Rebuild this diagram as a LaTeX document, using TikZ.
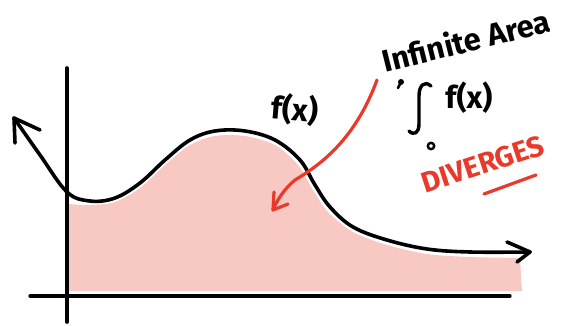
\documentclass[tikz,border=0pt]{standalone}
\usepackage{fontspec}
\setmainfont{Fira Sans}
\definecolor{pinkfill}{HTML}{F8C8C2}
\definecolor{redink}{HTML}{E8392A}
\tikzset{
  ink/.style={line width=3.6pt, line cap=round, line join=round, black},
  redpen/.style={line width=3.2pt, line cap=round, line join=round, redink},
  hand/.style={inner sep=0pt, font=\fontsize{31}{31}\selectfont\bfseries},
}
\begin{document}
\begin{tikzpicture}[x=1pt,y=-1pt]
\useasboundingbox (0,0) rectangle (562,326);
% shaded area
\fill[pinkfill] (69,204) -- plot[smooth] coordinates {(69,204) (90,205) (115,202) (140,188) (165,165) (190,145) (215,136) (245,136) (275,145) (298,165) (313,190) (328,212) (353,232) (387,245) (427,254) (470,257) (520,258)} -- (522,291) -- (69,291) -- cycle;
% axes
\draw[ink] (67,68) -- (67,322);
\draw[ink, line width=3.2pt] (30,296) -- (510,296);
% curve
\draw[ink] plot[smooth, tension=0.6] coordinates {(14,118) (40,155) (67,192) (90,201) (115,198) (140,183) (165,160) (190,140) (215,131) (245,131) (275,140) (300,160) (315,185) (330,207) (353,227) (387,240) (427,249) (470,252) (530,252)};
\draw[ink] (40,130) -- (14,118) -- (15,143);
\draw[ink] (507,242) -- (530,252) -- (517,262);
% label f(x)
\node[hand, rotate=-5] (fx) at (295,110) {f(x)};
% red arrow
\draw[redpen] (377,80) .. controls (355,140) and (320,165) .. (295,180) .. controls (285,188) and (277,200) .. (273,210);
\draw[redpen] (274,192) -- (273,210) -- (288,204);
% annotation
\node[hand, rotate=14] (area) at (466,40) {Infinite Area};
% integral sign
\draw[ink, line width=3.4pt] (431,86) .. controls (424,80) and (419,86) .. (419,96) -- (419,124) .. controls (419,133) and (414,136) .. (409,131);
\fill (401,82) circle (3pt);
\draw[line width=2.6pt, line cap=round] (401,82) -- (398,88);
\node[hand] (f) at (469,98) {f(x)};
\draw[line width=2.4pt] (431,146) circle (3.2pt);
\node[hand, text=redink, rotate=18, font=\fontsize{29}{29}\selectfont\bfseries] (div) at (483,164) {DIVERGES};
\draw[redpen] (484,194) -- (536,175);
\end{tikzpicture}
\end{document}
